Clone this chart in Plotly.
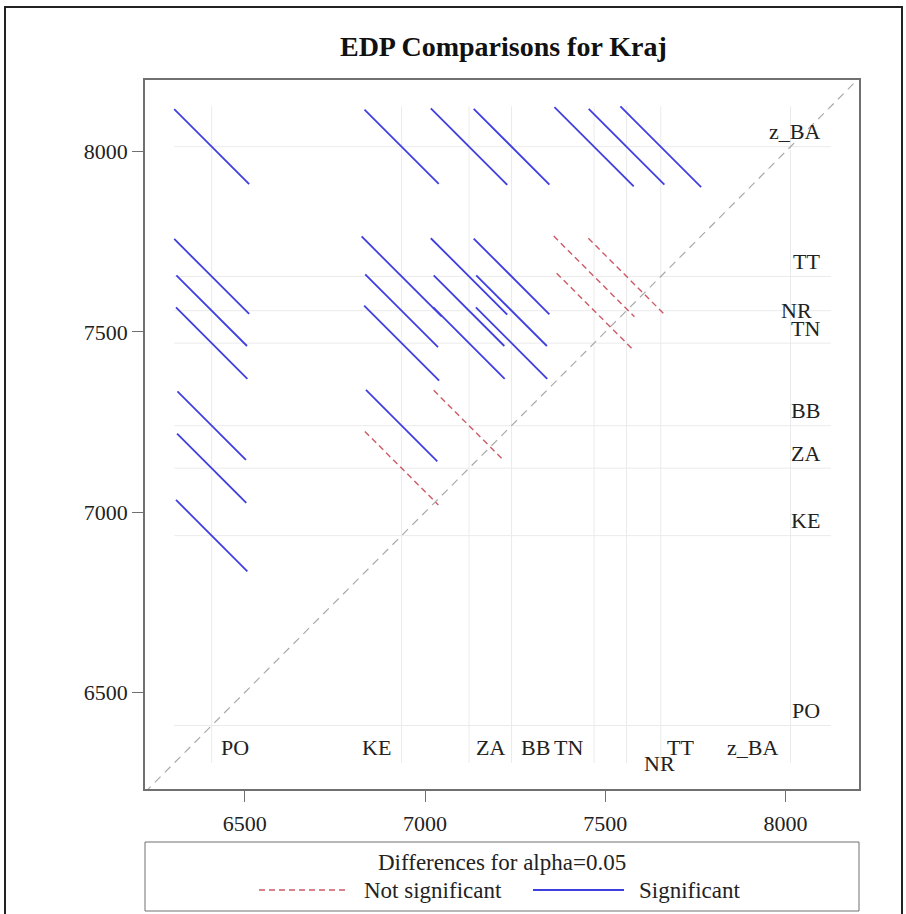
import plotly.graph_objects as go

# ---------------- data ----------------
groups = ["PO", "KE", "ZA", "BB", "TN", "NR", "TT", "z_BA"]
means = [6408, 6935, 7122, 7240, 7469, 7559, 7654, 8014]

# pairwise comparisons (lower-mean group, higher-mean group, CI half-width of difference)
pair_low = ["PO", "KE", "ZA", "BB", "TN", "NR", "TT",
            "PO", "KE", "ZA", "BB", "TN", "NR",
            "PO", "KE", "ZA", "BB", "TN",
            "PO", "KE", "ZA", "BB",
            "PO", "KE", "ZA",
            "PO", "KE",
            "PO"]
pair_high = ["z_BA"] * 7 + ["TT"] * 6 + ["NR"] * 5 + ["TN"] * 4 + ["BB"] * 3 + ["ZA"] * 2 + ["KE"]
ci_half = [208, 206, 212, 210, 220, 210, 224,
           208, 222, 212, 210, 224, 212,
           196, 202, 196, 196, 208,
           198, 208, 198, 198,
           190, 198, 196,
           192, 204,
           198]

tick_vals = [6500, 7000, 7500, 8000]

# ---------------- styling ----------------
FONT = "Liberation Serif, Times New Roman, serif"
BLUE = "#3f3fe0"
RED = "#cc5a66"
GRID = "#ebebeb"
AXIS = "#707070"
XR = [6223, 8204]
YR = [6232, 8199]

mean_of = dict(zip(groups, means))

sig_x, sig_y, ns_x, ns_y = [], [], [], []
ext_lo, ext_hi = [], []
for lo, hi, ci in zip(pair_low, pair_high, ci_half):
    mx, my = mean_of[lo], mean_of[hi]
    h = ci / 2.0
    xs = [mx - h, mx + h, None]
    ys = [my + h, my - h, None]
    ext_lo.append(mx - h)
    ext_hi.append(my + h)
    if abs(my - mx) > ci:
        sig_x += xs
        sig_y += ys
    else:
        ns_x += xs
        ns_y += ys

g_lo, g_hi = min(ext_lo), max(ext_hi)

fig = go.Figure()

# reference lines at each group mean
gx, gy = [], []
for m in means:
    gx += [m, m, None]
    gy += [g_lo, g_hi, None]
    gx += [g_lo, g_hi, None]
    gy += [m, m, None]
fig.add_trace(go.Scatter(x=gx, y=gy, mode="lines", line=dict(color=GRID, width=1),
                         hoverinfo="skip", showlegend=False))

# diagonal
fig.add_trace(go.Scatter(x=[XR[0], XR[1]], y=[XR[0], XR[1]], mode="lines",
                         line=dict(color="#a9a9a9", width=1.2, dash="8px,6px"),
                         hoverinfo="skip", showlegend=False))

fig.add_trace(go.Scatter(x=ns_x, y=ns_y, mode="lines", name="Not significant",
                         line=dict(color=RED, width=1.4, dash="6px,4px"), showlegend=False))
fig.add_trace(go.Scatter(x=sig_x, y=sig_y, mode="lines", name="Significant",
                         line=dict(color=BLUE, width=1.8), showlegend=False))

annotations = []
# bottom (x) labels: anchor, xshift, yshift
bottom_style = {"PO": ("left", 7, 0), "KE": ("right", -9, 0), "ZA": ("left", 5, 0),
                "BB": ("left", 7, 0), "TN": ("right", -9, 0), "NR": ("left", 15, -16),
                "TT": ("left", 4, 0), "z_BA": ("right", -11, 0)}
for g, m in zip(groups, means):
    anc, xs, ys = bottom_style[g]
    annotations.append(dict(x=m, y=0.058, xref="x", yref="paper", text=g, showarrow=False,
                            xanchor=anc, yanchor="middle", xshift=xs, yshift=ys,
                            font=dict(family=FONT, size=22, color="#222")))
# right (y) labels
right_style = {"NR": (0.937, 0)}
for g, m in zip(groups, means):
    xp, ys = right_style.get(g, (0.948, 15))
    annotations.append(dict(x=xp, y=m, xref="paper", yref="y", text=g, showarrow=False,
                            xanchor="right", yanchor="middle", yshift=ys,
                            font=dict(family=FONT, size=22, color="#222")))

# legend (manual)
def px_x(p):
    return (p - 145) / 714.0

def px_y(p):
    return (789.0 - p) / 709.0

LEG_ROW = 890
shapes = [
    dict(type="rect", xref="paper", yref="paper", x0=px_x(145), x1=px_x(859),
         y0=px_y(911), y1=px_y(842), line=dict(color=AXIS, width=1)),
    dict(type="line", xref="paper", yref="paper", x0=px_x(259), x1=px_x(349),
         y0=px_y(LEG_ROW), y1=px_y(LEG_ROW), line=dict(color=RED, width=1.4, dash="6px,4px")),
    dict(type="line", xref="paper", yref="paper", x0=px_x(533), x1=px_x(624),
         y0=px_y(LEG_ROW), y1=px_y(LEG_ROW), line=dict(color=BLUE, width=1.8)),
    # outer frame
    dict(type="rect", xref="paper", yref="paper", x0=px_x(5), x1=px_x(902),
         y0=px_y(940), y1=px_y(7), line=dict(color="#222", width=2)),
]
annotations += [
    dict(x=px_x(502), y=px_y(862), xref="paper", yref="paper", text="Differences for alpha=0.05",
         showarrow=False, xanchor="center", yanchor="middle",
         font=dict(family=FONT, size=23, color="#222")),
    dict(x=px_x(362), y=px_y(LEG_ROW), xref="paper", yref="paper", text="Not significant",
         showarrow=False, xanchor="left", yanchor="middle",
         font=dict(family=FONT, size=23, color="#222")),
    dict(x=px_x(637), y=px_y(LEG_ROW), xref="paper", yref="paper", text="Significant",
         showarrow=False, xanchor="left", yanchor="middle",
         font=dict(family=FONT, size=23, color="#222")),
]

axis_common = dict(showgrid=False, zeroline=False, showline=True, mirror=True,
                   linecolor=AXIS, linewidth=1.5, ticks="outside", ticklen=11,
                   tickcolor=AXIS, tickwidth=1.2, tickvals=tick_vals,
                   tickfont=dict(family=FONT, size=22, color="#222"))

fig.update_layout(
    width=906, height=914, autosize=False,
    margin=dict(l=145, r=47, t=80, b=125),
    paper_bgcolor="white", plot_bgcolor="white",
    title=dict(text="<b>EDP Comparisons for Kraj</b>", x=0.502, xref="paper",
               y=1 - 46 / 914.0, yanchor="middle",
               font=dict(family=FONT, size=28, color="#111")),
    xaxis=dict(range=XR, ticklabelstandoff=3, **axis_common),
    yaxis=dict(range=YR, **axis_common),
    annotations=annotations,
    shapes=shapes,
    showlegend=False,
)

fig.write_html("out.html", config={"displayModeBar": False},
               post_script="document.body.style.margin='0';")
